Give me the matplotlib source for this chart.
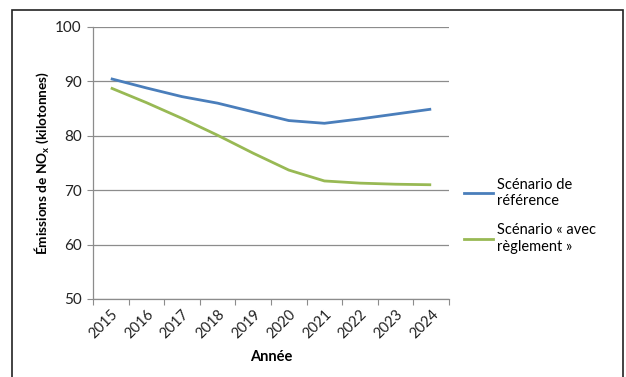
import matplotlib
matplotlib.use("Agg")
import matplotlib.pyplot as plt
from matplotlib.lines import Line2D

plt.rcParams['font.family'] = ['Lato', 'DejaVu Sans']
plt.rcParams['mathtext.default'] = 'regular'

years = ["2015", "2016", "2017", "2018", "2019", "2020", "2021", "2022", "2023", "2024"]
reference = [90.5, 88.8, 87.2, 86.0, 84.4, 82.8, 82.3, 83.1, 84.0, 84.9]
with_rule = [88.8, 86.1, 83.2, 80.1, 76.8, 73.7, 71.7, 71.3, 71.1, 71.0]
series_names = ["Scénario de\nréférence", "Scénario « avec\nrèglement »"]
colors = ["#4A7EBB", "#98B954"]

fig = plt.figure(figsize=(6.26, 3.77), dpi=100)
ax = fig.add_axes([93 / 626, 1 - 299 / 377, (449 - 93) / 626, (299 - 27) / 377])

x = list(range(len(years)))
ax.plot(x, reference, color=colors[0], lw=2.0, solid_capstyle='butt')
ax.plot(x, with_rule, color=colors[1], lw=2.0, solid_capstyle='butt')

ax.set_xlim(-0.5, len(years) - 0.5)
ax.set_ylim(50, 100)
ax.set_yticks([50, 60, 70, 80, 90, 100])
ax.grid(axis='y', color='#8C8C8C', lw=0.9)
ax.set_axisbelow(True)

# category boundaries carry the tick marks, centres carry the labels
ax.set_xticks([i - 0.5 for i in range(len(years) + 1)])
ax.set_xticklabels([])
ax.set_xticks(x, minor=True)
ax.set_xticklabels(years, minor=True, rotation=45, ha='right', rotation_mode='anchor',
                   fontsize=10.5, color='#222222')
ax.tick_params(axis='x', which='minor', length=0, pad=6)
ax.tick_params(axis='x', which='major', length=4, color='#8C8C8C', direction='out')
ax.tick_params(axis='y', length=4, color='#8C8C8C', direction='out', labelsize=11,
               labelcolor='#222222', pad=4)

for side in ('top', 'right'):
    ax.spines[side].set_visible(False)
for side in ('left', 'bottom'):
    ax.spines[side].set_color('#8C8C8C')
    ax.spines[side].set_linewidth(0.9)

ax.set_xlabel("Année", fontsize=10.5, fontweight='bold', labelpad=6)
ax.set_ylabel("Émissions de NO$_x$ (kilotonnes)", fontsize=9.8, fontweight='bold')
ax.yaxis.set_label_coords(-0.118, 0.5)

handles = [Line2D([], [], color=c, lw=2.0) for c in colors]
fig.legend(handles, series_names, loc='upper left', bbox_to_anchor=(458 / 626, 1 - 172 / 377),
           frameon=False, fontsize=10.5, handlelength=2.0, handletextpad=0.25,
           labelspacing=1.05, borderaxespad=0)

# outer frame
frame = plt.Rectangle((12 / 626, -0.05), (623 - 12) / 626, 1 - 10 / 377 + 0.05,
                      transform=fig.transFigure, fill=False, edgecolor='#222222', lw=1.2)
fig.patches.append(frame)

fig.savefig("out.png", dpi=100)
